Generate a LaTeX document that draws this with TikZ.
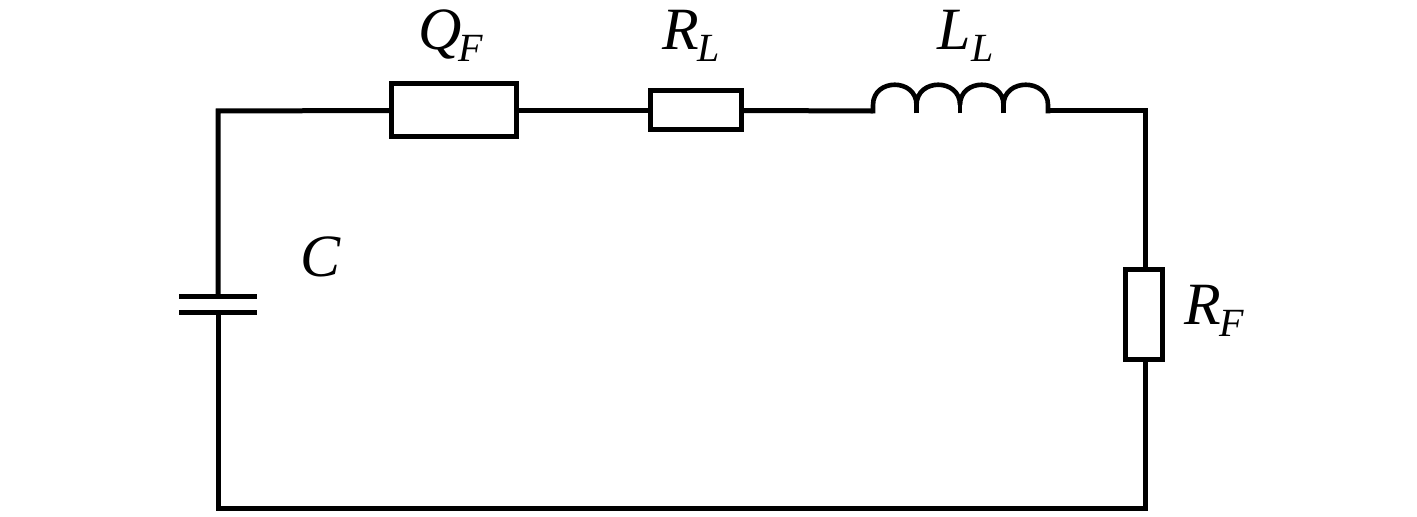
\documentclass[tikz,border=0pt]{standalone}
\usepackage{fontspec}
\setmainfont{Liberation Serif}
\newcommand{\circlabel}[3]{\itshape\makebox[#3pt][l]{\fontsize{30}{30}\selectfont #1}\raisebox{-5.6pt}{\fontsize{20}{20}\selectfont #2}}
\tikzset{
  wire/.style={line width=2.5pt,line cap=butt,line join=miter,color=black},
  coil/.style={wire,line width=2.3pt,line join=bevel},
  resbox/.style={draw=black,line width=2.5pt,fill=white,rectangle,inner sep=0pt,outer sep=0pt},
  lbl/.style={anchor=base west,inner sep=0pt,outer sep=0pt,text=black},
}
\begin{document}
\begin{tikzpicture}[x=0.5pt,y=-0.5pt]
\useasboundingbox (0,0) rectangle (1417,517);
% corners and free ends
\coordinate (tl) at (218,111);
\coordinate (tr) at (1145,111);
\coordinate (bl) at (218,508);
\coordinate (br) at (1145,508);
% capacitor plates
\coordinate (capTopL) at (179,296.5);
\coordinate (capTopR) at (257,296.5);
\coordinate (capBotL) at (179,313);
\coordinate (capBotR) at (257,313);
\coordinate (capTop) at (218,296.5);
\coordinate (capBot) at (218,313);
% inductor
\coordinate (indIn) at (873,111);
\coordinate (indA) at (916.5,111);
\coordinate (indB) at (960,111);
\coordinate (indC) at (1003.5,111);
\coordinate (indOut) at (1048,111);
% boxes
\node[resbox,minimum width=62.5pt,minimum height=26.5pt] (QF) at (453.5,110.5) {};
\node[resbox,minimum width=45.5pt,minimum height=19.5pt] (RL) at (695.5,110.5) {};
\node[resbox,minimum width=18.2pt,minimum height=45pt] (RF) at (1143.8,314.5) {};
% wires
\draw[wire] (capTop) -- (tl) -- (QF.west);
\draw[wire] (QF.east) -- (RL.west);
\draw[wire] (RL.east) -- (indIn);
\draw[wire] (indOut) -- (tr) -- (tr |- RF.north);
\draw[wire] (tr |- RF.south) -- (br) -- (bl) -- (capBot);
\draw[wire] (capTopL) -- (capTopR);
\draw[wire] (capBotL) -- (capBotR);
% inductor coils
\draw[coil] (indIn) ++(0,2.5) -- ++(0,-8.5)
  .. controls +(0,-27) and +(0,-27) .. ++(43.5,0)
  .. controls +(0,-27) and +(0,-27) .. ++(43.5,0)
  .. controls +(0,-27) and +(0,-27) .. ++(43.5,0)
  .. controls +(0,-27) and +(0,-27) .. ++(44.5,0) -- ++(0,8.5);
\draw[coil] (indA) ++(0,2.5) -- ++(0,-14);
\draw[coil] (indB) ++(0,2.5) -- ++(0,-14);
\draw[coil] (indC) ++(0,2.5) -- ++(0,-14);
% labels
\node[lbl] (labQ) at (418,50) {\circlabel{Q}{F}{20}};
\node[lbl] (labRL) at (662,50) {\circlabel{R}{L}{17.5}};
\node[lbl] (labLL) at (937,50) {\circlabel{L}{L}{17}};
\node[lbl] (labC) at (300,277) {\fontsize{30}{30}\selectfont\itshape C};
\node[lbl] (labRF) at (1184,325) {\circlabel{R}{F}{17.5}};
\end{tikzpicture}
\end{document}
